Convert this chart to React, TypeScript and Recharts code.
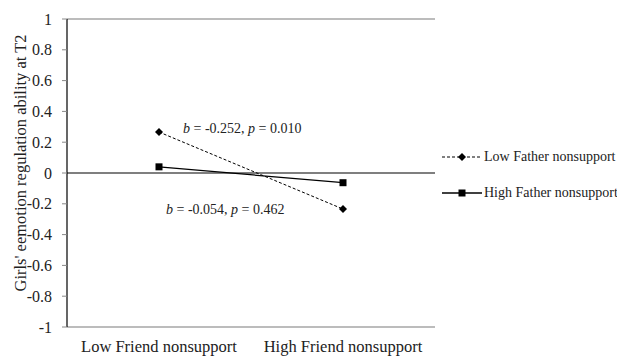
import React from "react";
import {
  LineChart,
  Line,
  XAxis,
  YAxis,
  ReferenceLine,
} from "recharts";

const categories = ["Low Friend nonsupport", "High Friend nonsupport"];
const lowFatherValues = [0.266, -0.234];
const highFatherValues = [0.04, -0.063];
const yTicks = [-1, -0.8, -0.6, -0.4, -0.2, 0, 0.2, 0.4, 0.6, 0.8, 1];
const seriesNames = ["Low Father nonsupport", "High Father nonsupport"];
const yTitle = "Girls' eemotion regulation ability at T2";

const data = categories.map((c, i) => ({
  name: c,
  low: lowFatherValues[i],
  high: highFatherValues[i],
}));

const FONT = "'Liberation Serif', 'Times New Roman', serif";

const Diamond = (props: any) => {
  const { cx, cy } = props;
  if (cx == null || cy == null) return null;
  const s = 4;
  return (
    <path
      d={`M${cx},${cy - s} L${cx + s},${cy} L${cx},${cy + s} L${cx - s},${cy} Z`}
      fill="#000"
      stroke="none"
    />
  );
};

const Square = (props: any) => {
  const { cx, cy } = props;
  if (cx == null || cy == null) return null;
  const s = 3.5;
  return <rect x={cx - s} y={cy - s} width={2 * s} height={2 * s} fill="#000" />;
};

const YTitle = () => (
  <text
    x={20}
    y={163}
    transform="rotate(-90, 20, 163)"
    textAnchor="middle"
    dominantBaseline="central"
    fontFamily={FONT}
    fontSize={16.5}
    fill="#222"
  >
    {yTitle}
  </text>
);

const LegendBox = () => (
  <div
    style={{
      position: "absolute",
      left: 442,
      top: 147,
      fontFamily: FONT,
      fontSize: 14,
      color: "#222",
      whiteSpace: "nowrap",
    }}
  >
    <div style={{ display: "flex", alignItems: "center", height: 20 }}>
      <svg width={42} height={12} style={{ display: "block" }}>
        <line x1={0} y1={6} x2={40} y2={6} stroke="#000" strokeWidth={1} strokeDasharray="3 2" />
        <path d="M20,2 L24,6 L20,10 L16,6 Z" fill="#000" />
      </svg>
      <span>{seriesNames[0]}</span>
    </div>
    <div style={{ height: 16 }} />
    <div style={{ display: "flex", alignItems: "center", height: 20 }}>
      <svg width={42} height={12} style={{ display: "block" }}>
        <line x1={0} y1={6} x2={40} y2={6} stroke="#000" strokeWidth={1.3} />
        <rect x={16.5} y={2.5} width={7} height={7} fill="#000" />
      </svg>
      <span>{seriesNames[1]}</span>
    </div>
  </div>
);

const annStyle: React.CSSProperties = {
  position: "absolute",
  fontFamily: FONT,
  fontSize: 14,
  color: "#222",
  whiteSpace: "nowrap",
  lineHeight: "16px",
};

export default function App() {
  return (
    <div style={{ position: "absolute", left: 0, top: 0, width: 617, height: 356, background: "#fff" }}>
      <LineChart
        width={617}
        height={356}
        data={data}
        margin={{ top: 19, right: 182, left: 0, bottom: 0 }}
      >
        <XAxis
          dataKey="name"
          scale="band"
          interval={0}
          height={29}
          axisLine={{ stroke: "#a6a6a6", strokeWidth: 1.5 }}
          tickLine={false}
          tickSize={0}
          tickMargin={13}
          tick={{ fontFamily: FONT, fontSize: 16.5, fill: "#222" }}
        />
        <YAxis
          type="number"
          domain={[-1, 1]}
          ticks={yTicks}
          width={67}
          interval={0}
          axisLine={{ stroke: "#000", strokeWidth: 1.2 }}
          tickLine={{ stroke: "#888" }}
          tickSize={5}
          tickMargin={10}
          tickFormatter={(v: number) => String(v)}
          tick={{ fontFamily: FONT, fontSize: 16, fill: "#222" }}
          label={<YTitle />}
        />
        <YAxis
          yAxisId="right"
          orientation="right"
          width={0}
          domain={[-1, 1]}
          tick={false}
          tickLine={false}
          axisLine={{ stroke: "#a6a6a6", strokeWidth: 1.5 }}
        />
        <ReferenceLine y={1} stroke="#a6a6a6" strokeWidth={1.5} />
        <ReferenceLine y={0} stroke="#000" strokeWidth={1.2} />
        <Line
          dataKey="low"
          name={seriesNames[0]}
          stroke="#000"
          strokeWidth={1}
          strokeDasharray="3 2"
          dot={<Diamond />}
          activeDot={false}
          isAnimationActive={false}
        />
        <Line
          dataKey="high"
          name={seriesNames[1]}
          stroke="#000"
          strokeWidth={1.3}
          dot={<Square />}
          activeDot={false}
          isAnimationActive={false}
        />
      </LineChart>
      <LegendBox />
      <div style={{ ...annStyle, left: 183, top: 121 }}>
        <i>b</i> = -0.252, <i>p</i> = 0.010
      </div>
      <div style={{ ...annStyle, left: 166, top: 202 }}>
        <i>b</i> = -0.054, <i>p</i> = 0.462
      </div>
    </div>
  );
}
